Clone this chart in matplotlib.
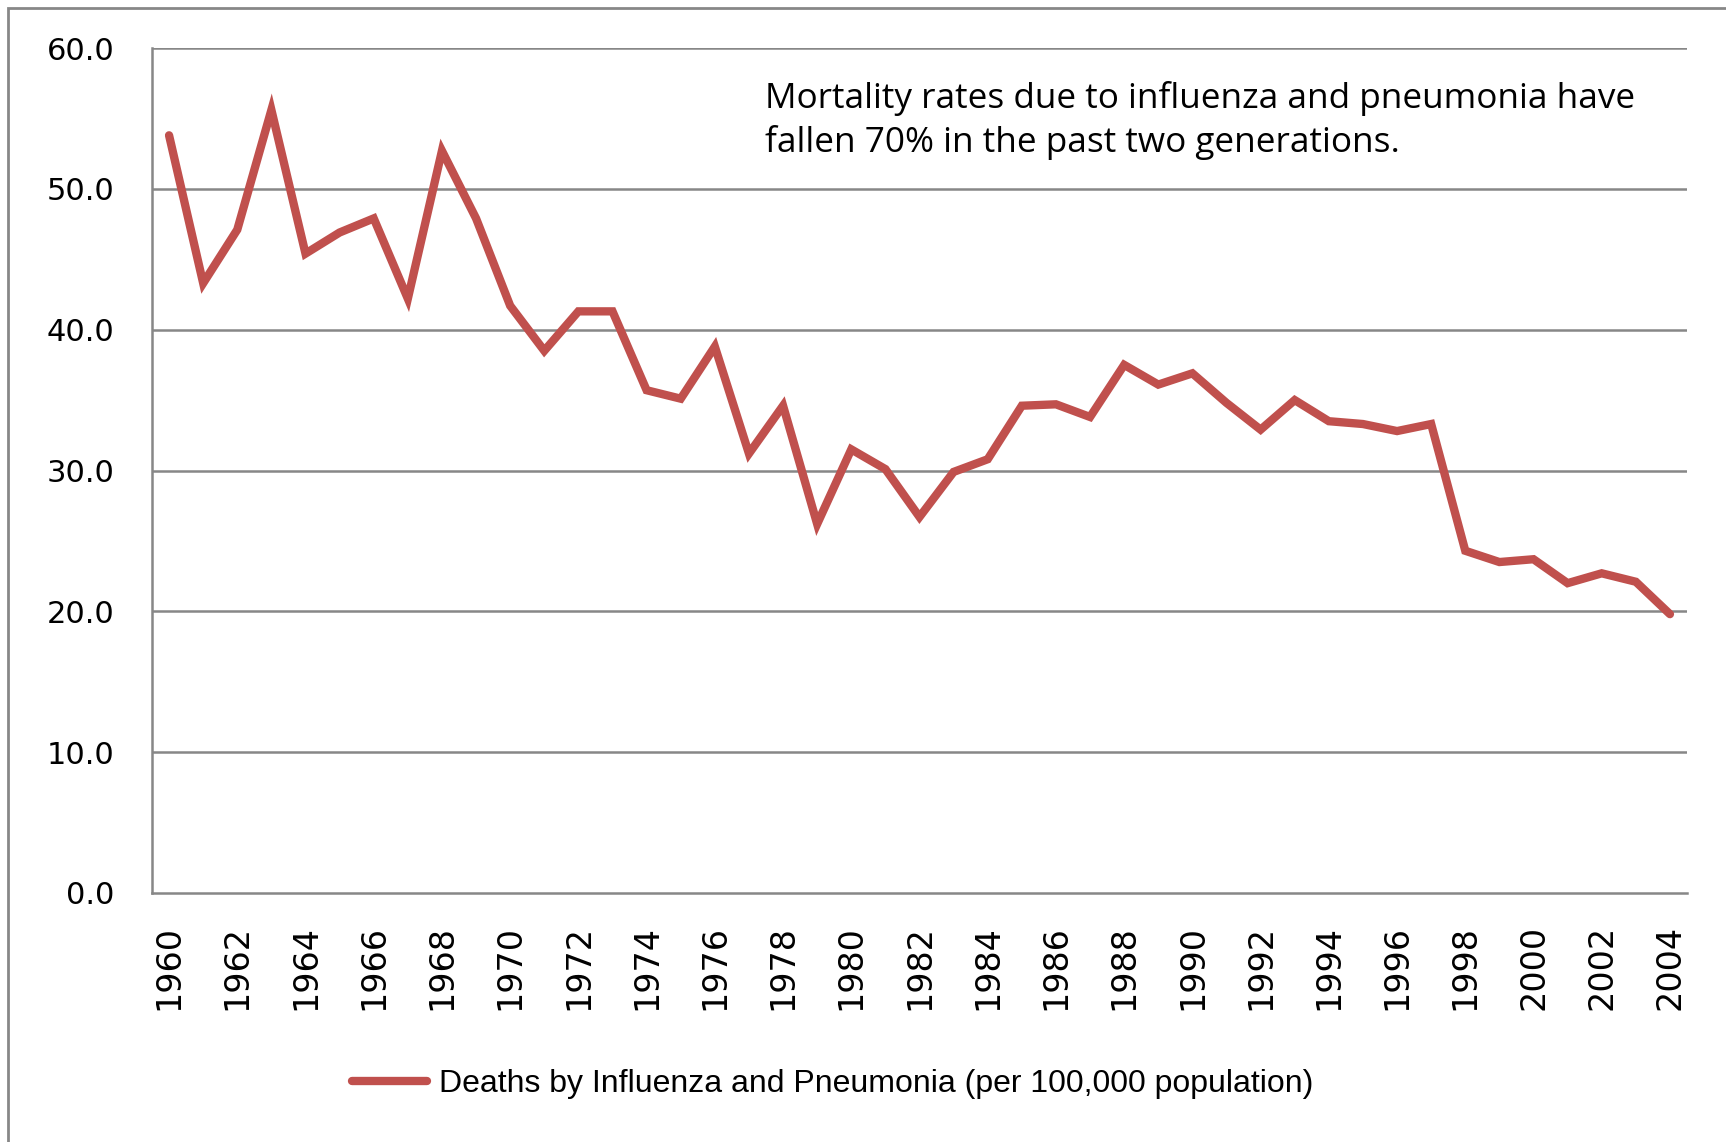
import numpy as np
import matplotlib
matplotlib.use("Agg")
import matplotlib.pyplot as plt
from matplotlib.lines import Line2D

# data
years = list(range(1960, 2005))
deaths = [53.8, 43.3, 47.1, 55.6, 45.4, 46.9, 47.9, 42.2, 52.7, 47.9,
          41.7, 38.5, 41.3, 41.3, 35.7, 35.1, 38.8, 31.2, 34.6, 26.2,
          31.5, 30.1, 26.7, 29.9, 30.8, 34.6, 34.7, 33.8, 37.5, 36.1,
          36.9, 34.8, 32.9, 35.0, 33.5, 33.3, 32.8, 33.3, 24.3, 23.5,
          23.7, 22.0, 22.7, 22.1, 19.8]
yticks = [0, 10, 20, 30, 40, 50, 60]
series_name = "Deaths by Influenza and Pneumonia (per 100,000 population)"
note = "Mortality rates due to influenza and pneumonia have\nfallen 70% in the past two generations."

W, H = 1726, 1142
red = "#C0504D"
grey = "#878787"

fig = plt.figure(figsize=(W / 100, H / 100), dpi=100)

# outer chart border (cut off at right and bottom)
fig.patches.append(plt.Rectangle((7.5 / W, -0.1), 1.2, 1 - 8 / H + 0.1,
                                 transform=fig.transFigure, fill=False,
                                 edgecolor=grey, linewidth=2))

ax = fig.add_axes([152 / W, 249 / H, (1687 - 152) / W, (893 - 48) / H])
x = np.arange(len(years))
ax.plot(x, deaths, color=red, linewidth=6, solid_joinstyle="miter",
        solid_capstyle="round")

ax.set_xlim(-0.5, len(years) - 0.5)
ax.set_ylim(0, 60)
ax.set_yticks(yticks)
ax.set_yticklabels([f"{v:.1f}" for v in yticks])
ax.set_xticks(x[::2])
ax.set_xticklabels([str(y) for y in years[::2]], rotation=90)

for v in yticks[1:]:
    ax.axhline(v, color=grey, linewidth=1.8, zorder=0)

for s in ["top", "right"]:
    ax.spines[s].set_visible(False)
ax.spines["left"].set_color(grey)
ax.spines["left"].set_linewidth(1.8)
ax.spines["bottom"].set_color(grey)
ax.spines["bottom"].set_linewidth(1.8)
ax.tick_params(axis="y", length=0, pad=27, labelsize=22)
ax.tick_params(axis="x", length=0, pad=23, labelsize=24)
for lab in ax.get_yticklabels() + ax.get_xticklabels():
    lab.set_fontfamily("DejaVu Sans")

fig.text(765 / W, 1 - 81 / H, note, ha="left", va="top",
         fontsize=25.3, family="Open Sans", linespacing=1.33)

handle = Line2D([], [], color=red, linewidth=6, solid_capstyle="round")
fig.legend([handle], [series_name], loc="center left",
           bbox_to_anchor=(352 / W, 1 - 1084 / H), frameon=False,
           borderpad=0, borderaxespad=0, handlelength=2.35, handletextpad=0.38,
           prop={"family": "Liberation Sans", "size": 23})

fig.savefig("out.png", dpi=100)
